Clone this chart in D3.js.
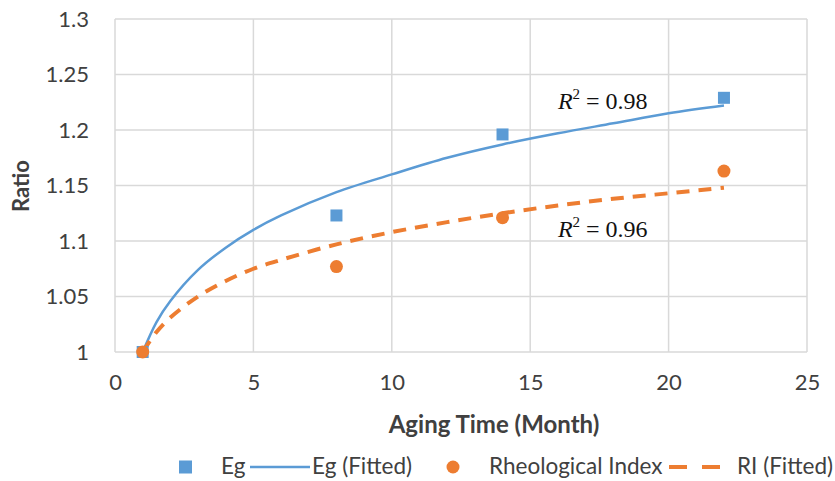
<!DOCTYPE html>
<html>
<head>
<meta charset="utf-8">
<script src="https://cdn.jsdelivr.net/npm/d3@7"></script>
<style>
  body { margin: 0; background: #fff; }
  svg text { font-family: Lato, "Open Sans", sans-serif; fill: #404040; }
</style>
</head>
<body>
<svg id="chart" width="835" height="481"></svg>
<script>
// measured points
var months = [1, 8, 14, 22];
var egValues = [1.000, 1.123, 1.196, 1.229];
var riValues = [1.000, 1.077, 1.121, 1.163];

// fitted curves
var fitMonths = [1, 1.5, 2, 3, 4, 5, 6, 8, 10, 12, 14, 16, 18, 20, 22];
var egFitted = [1.000, 1.027, 1.046, 1.074, 1.094, 1.110, 1.123, 1.144, 1.160, 1.175, 1.187, 1.197, 1.206, 1.215, 1.222];
var riFitted = [1.000, 1.018, 1.031, 1.050, 1.064, 1.075, 1.083, 1.097, 1.108, 1.117, 1.125, 1.132, 1.138, 1.143, 1.148];

var xTicks = [0, 5, 10, 15, 20, 25];
var yTicks = [1, 1.05, 1.1, 1.15, 1.2, 1.25, 1.3];
var r2Labels = ['0.98', '0.96'];

var color = {
  eg: '#5B9BD5',
  ri: '#ED7D31',
  grid: '#D9D9D9'
};

var svg = d3.select('#chart');
var x = d3.scaleLinear().domain([0, 25]).range([115, 807]);
var y = d3.scaleLinear().domain([1, 1.3]).range([352, 19]);

// grid
svg.append('g').selectAll('line').data(yTicks).join('line')
  .attr('x1', x(0)).attr('x2', x(25))
  .attr('y1', d => y(d)).attr('y2', d => y(d))
  .attr('stroke', color.grid).attr('stroke-width', 1.5);
svg.append('g').selectAll('line').data(xTicks).join('line')
  .attr('x1', d => x(d)).attr('x2', d => x(d))
  .attr('y1', y(1)).attr('y2', y(1.3))
  .attr('stroke', color.grid).attr('stroke-width', 1.5);

// axes labels
var xAxis = svg.append('g').attr('transform', 'translate(0,' + y(1) + ')')
  .call(d3.axisBottom(x).tickValues(xTicks).tickSize(0).tickPadding(22).tickFormat(d3.format('d')));
var yAxis = svg.append('g').attr('transform', 'translate(' + x(0) + ',0)')
  .call(d3.axisLeft(y).tickValues(yTicks).tickSize(0).tickPadding(26).tickFormat(d => String(d)));
[xAxis, yAxis].forEach(function (a) {
  a.select('.domain').remove();
  a.selectAll('text').style('font-size', '22px').attr('fill', '#404040')
    .style('font-family', 'Lato, "Open Sans", sans-serif');
});

svg.append('text').attr('x', 494).attr('y', 433).attr('text-anchor', 'middle')
  .style('font-size', '24px').style('font-weight', 'bold').text('Aging Time (Month)');
svg.append('text').attr('transform', 'translate(29,186) rotate(-90)').attr('text-anchor', 'middle')
  .style('font-size', '22px').style('font-weight', 'bold').text('Ratio');

// fitted lines
var line = d3.line().x(d => x(d[0])).y(d => y(d[1])).curve(d3.curveCatmullRom);
svg.append('path').datum(d3.zip(fitMonths, egFitted)).attr('d', line)
  .attr('fill', 'none').attr('stroke', color.eg).attr('stroke-width', 2.5);
svg.append('path').datum(d3.zip(fitMonths, riFitted)).attr('d', line)
  .attr('fill', 'none').attr('stroke', color.ri).attr('stroke-width', 4)
  .attr('stroke-dasharray', '13,9');

// markers
svg.append('g').selectAll('rect').data(d3.zip(months, egValues)).join('rect')
  .attr('x', d => x(d[0]) - 6).attr('y', d => y(d[1]) - 6)
  .attr('width', 12).attr('height', 12).attr('fill', color.eg);
svg.append('g').selectAll('circle').data(d3.zip(months, riValues)).join('circle')
  .attr('cx', d => x(d[0])).attr('cy', d => y(d[1])).attr('r', 6.5).attr('fill', color.ri);

// R² annotations
function r2(px, py, val) {
  var t = svg.append('text').attr('x', px).attr('y', py)
    .style('font-family', '"Liberation Serif", serif').style('font-size', '24px');
  t.append('tspan').style('font-style', 'italic').style('fill', '#111').text('R');
  t.append('tspan').attr('dy', -10).style('font-size', '15px').style('fill', '#111').text('2');
  t.append('tspan').attr('dy', 10).style('fill', '#111').text(' = ' + val);
}
r2(x(16), y(1.22) + 1, r2Labels[0]);
r2(x(16), y(1.1) - 4, r2Labels[1]);

// legend
var ly = 467;
var fs = '22.5px';
var lg = svg.append('g');
lg.append('rect').attr('x', 179).attr('y', ly - 6.5).attr('width', 13).attr('height', 13).attr('fill', color.eg);
lg.append('text').attr('x', 221).attr('y', ly + 7).style('font-size', fs).text('Eg');
lg.append('line').attr('x1', 250).attr('x2', 310).attr('y1', ly).attr('y2', ly)
  .attr('stroke', color.eg).attr('stroke-width', 2.5);
lg.append('text').attr('x', 312).attr('y', ly + 7).style('font-size', fs).text('Eg (Fitted)');
lg.append('circle').attr('cx', 453).attr('cy', ly).attr('r', 6.5).attr('fill', color.ri);
lg.append('text').attr('x', 489).attr('y', ly + 7).style('font-size', fs).text('Rheological Index');
lg.append('line').attr('x1', 669).attr('x2', 720).attr('y1', ly).attr('y2', ly)
  .attr('stroke', color.ri).attr('stroke-width', 4).attr('stroke-dasharray', '18,15');
lg.append('text').attr('x', 737).attr('y', ly + 7).style('font-size', fs).text('RI (Fitted)');
</script>
</body>
</html>
